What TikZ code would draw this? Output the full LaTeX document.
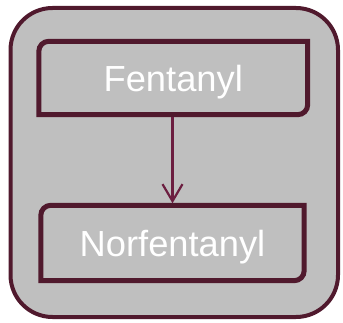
\documentclass[tikz,border=0pt]{standalone}
\usepackage{fontspec}
\setmainfont{Liberation Sans}
\usetikzlibrary{arrows.meta,calc}
\definecolor{bordermaroon}{RGB}{80,25,45}
\definecolor{arrowmaroon}{RGB}{108,30,64}
\definecolor{panelgray}{RGB}{191,191,191}
\tikzset{
  boxtext/.style={inner sep=0pt, text=white, font=\fontsize{36.3}{36}\selectfont,
    text height=27pt, text depth=0pt},
  boxline/.style={draw=bordermaroon, line width=5pt},
  arr/.style={draw=arrowmaroon, line width=2.2pt,
    -{Straight Barb[length=17pt,width=20pt,line width=2.2pt]}}
}
\begin{document}
\begin{tikzpicture}[x=1pt,y=1pt]
\useasboundingbox (0,0) rectangle (343,322);
% outer panel
\draw[draw=bordermaroon, fill=panelgray, line width=4pt, rounded corners=42pt]
  (10.5,5) rectangle (338,314);
% nodes
\node[boxtext, minimum width=268.5pt, minimum height=73pt] (top) at (173.25,244) {Fentanyl};
\node[boxtext, minimum width=263pt, minimum height=75pt] (bot) at (172.5,79) {Norfentanyl};
% box borders: top-left and bottom-right rounded
\draw[boxline] (top.south west) -- ([yshift=-10pt]top.north west)
  arc[start angle=180,end angle=90,radius=10pt] -- (top.north east)
  -- ([yshift=10pt]top.south east) arc[start angle=0,end angle=-90,radius=10pt] -- cycle;
\draw[boxline] (bot.south west) -- ([yshift=-10pt]bot.north west)
  arc[start angle=180,end angle=90,radius=10pt] -- (bot.north east)
  -- ([yshift=10pt]bot.south east) arc[start angle=0,end angle=-90,radius=10pt] -- cycle;
% connector
\draw[arr] ([yshift=-2.5pt]top.south -| bot.north) -- ([yshift=2pt]bot.north);
\end{tikzpicture}
\end{document}
